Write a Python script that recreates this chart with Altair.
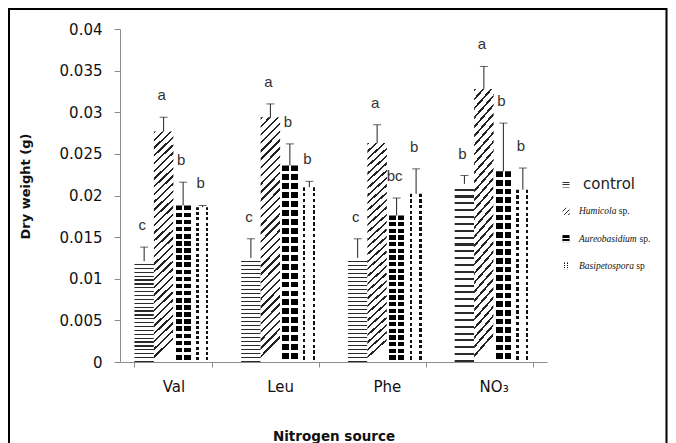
import altair as alt
import pandas as pd

# ---------------- data ----------------
categories = ["Val", "Leu", "Phe", "NO₃"]
series = ["control", "Humicola sp.", "Aureobasidium sp.", "Basipetospora sp"]

control_mean = [0.0121, 0.0125, 0.0125, 0.0214]
humicola_mean = [0.0277, 0.0294, 0.0263, 0.0328]
aureobasidium_mean = [0.0188, 0.0236, 0.0176, 0.0229]
basipetospora_mean = [0.0186, 0.0210, 0.0202, 0.0207]

control_err = [0.0017, 0.0023, 0.0023, 0.0010]
humicola_err = [0.0017, 0.0016, 0.0022, 0.0027]
aureobasidium_err = [0.0028, 0.0026, 0.0021, 0.0058]
basipetospora_err = [0.0002, 0.0007, 0.0030, 0.0026]

control_letters = ["c", "c", "c", "b"]
humicola_letters = ["a", "a", "a", "a"]
aureobasidium_letters = ["b", "b", "bc", "b"]
basipetospora_letters = ["b", "b", "b", "b"]

legend_names = ["control", "Humicola", "Aureobasidium", "Basipetospora"]
legend_suffix = ["", "sp.", "sp.", "sp"]

y_ticks = [0, 0.005, 0.01, 0.015, 0.02, 0.025, 0.03, 0.035, 0.04]

means = [control_mean, humicola_mean, aureobasidium_mean, basipetospora_mean]
errs = [control_err, humicola_err, aureobasidium_err, basipetospora_err]
letters = [control_letters, humicola_letters, aureobasidium_letters, basipetospora_letters]

rows = []
for s, m, e, l in zip(series, means, errs, letters):
    for c, mv, ev, lv in zip(categories, m, e, l):
        rows.append({"category": c, "series": s, "value": mv, "top": mv + ev, "letter": lv})
df = pd.DataFrame(rows)

# ---------------- pattern fills (gradients) ----------------
def stop(o, c):
    return alt.GradientStop(offset=round(min(max(o, 0), 1), 5), color=c)


def stripes(n, frac, dark, light, x2, y2, dark_first=False):
    st = []
    for k in range(n):
        a, b = k / n, (k + 1) / n
        if dark_first:
            m = (k + frac) / n
            st += [stop(a, dark), stop(m, dark), stop(m, light), stop(b, light)]
        else:
            m = (k + 1 - frac) / n
            st += [stop(a, light), stop(m, light), stop(m, dark), stop(b, dark)]
    return alt.LinearGradient(gradient="linear", stops=st, x1=0, y1=0, x2=x2, y2=y2)


def bands(segs, x2=1, y2=0):
    st = []
    for a, b, c in segs:
        st += [stop(a, c), stop(b, c)]
    return alt.LinearGradient(gradient="linear", stops=st, x1=0, y1=0, x2=x2, y2=y2)


CLEAR = "rgba(255,255,255,0)"
fill_control = stripes(26, 0.3, "#2a2a2a", "white", 0, 1)
fill_humicola = stripes(30, 0.3, "#222222", "white", 0.081, 1, dark_first=True)
fill_aureo = bands([(0, 0.12, "white"), (0.12, 0.46, "black"), (0.46, 0.56, "white"),
                    (0.56, 0.9, "black"), (0.9, 1, "white")])
over_aureo = stripes(22, 0.35, "white", CLEAR, 0, 1)
fill_basip = bands([(0, 0.17, "white"), (0.17, 0.29, "#111111"), (0.29, 0.67, "white"),
                    (0.67, 0.79, "#111111"), (0.79, 1, "white")])
over_basip = stripes(30, 0.42, "white", CLEAR, 0, 1)

leg_fills = [
    [stripes(3, 0.35, "#333333", "white", 0, 1)],
    [stripes(3, 0.35, "#333333", "white", 1, 1)],
    [bands([(0, 0.2, "black"), (0.2, 0.8, "black"), (0.8, 1, "black")], 0, 1),
     stripes(2, 0.3, "white", CLEAR, 0, 1)],
    [fill_basip, stripes(3, 0.4, "white", CLEAR, 0, 1)],
]

# ---------------- encodings ----------------
x_enc = alt.X(
    "category:N",
    sort=categories,
    scale=alt.Scale(domain=categories, paddingInner=0.27, paddingOuter=0.135),
    axis=alt.Axis(
        title="Nitrogen source",
        labelAngle=0,
        labelFont="DejaVu Sans",
        labelFontSize=15,
        labelColor="#111111",
        labelBaseline="alphabetic",
        labelPadding=24,
        domainColor="#8c8c8c",
        tickColor="#8c8c8c",
        tickSize=5,
        tickBand="extent",
        titleFont="DejaVu Sans",
        titleFontSize=13.5,
        titleFontWeight="bold",
        titleColor="#111111",
        titleBaseline="alphabetic",
        titleY=78,
    ),
)
xo_enc = alt.XOffset("series:N", scale=alt.Scale(domain=series, paddingInner=0, paddingOuter=0))
y_scale = alt.Scale(domain=[0, 0.04], nice=False, zero=True)
y_enc = alt.Y(
    "value:Q",
    scale=y_scale,
    axis=alt.Axis(
        values=y_ticks,
        format="~g",
        grid=False,
        title="Dry weight (g)",
        labelFont="DejaVu Sans",
        labelFontSize=15,
        labelColor="#111111",
        labelPadding=12,
        domainColor="#8c8c8c",
        tickColor="#8c8c8c",
        tickSize=6,
        titleFont="DejaVu Sans",
        titleFontSize=13,
        titleFontWeight="bold",
        titleColor="#111111",
        titleAngle=270,
        titleAlign="center",
        titleBaseline="bottom",
        titleX=-88,
        titleY=157,
    ),
)

base = alt.Chart(df)


def bar_layer(s, fill):
    return base.transform_filter(alt.datum.series == s).mark_bar(fill=fill, strokeWidth=0).encode(
        x=x_enc, xOffset=xo_enc, y=y_enc
    )


layers = [
    bar_layer(series[0], fill_control),
    bar_layer(series[1], fill_humicola),
    bar_layer(series[2], fill_aureo),
    bar_layer(series[2], over_aureo),
    bar_layer(series[3], fill_basip),
    bar_layer(series[3], over_basip),
]

err_rule = base.mark_rule(color="#222222", strokeWidth=1).encode(
    x=x_enc, xOffset=xo_enc, y=alt.Y("value:Q", scale=y_scale), y2="top:Q"
)
err_cap = base.mark_tick(color="#222222", thickness=1, size=8, orient="horizontal").encode(
    x=x_enc, xOffset=xo_enc, y=alt.Y("top:Q", scale=y_scale)
)
letter_text = base.mark_text(
    font="Liberation Sans", fontSize=15, color="#333333", baseline="alphabetic", dy=-17, dx=-2
).encode(x=x_enc, xOffset=xo_enc, y=alt.Y("top:Q", scale=y_scale), text="letter:N")
layers += [err_rule, err_cap, letter_text]

# ---------------- legend ----------------
italic_w = {"A": 611, "B": 611, "H": 722, "a": 500, "b": 500, "c": 444, "d": 500, "e": 444,
            "i": 278, "l": 278, "m": 722, "o": 500, "p": 500, "r": 389, "s": 389, "t": 278, "u": 500}
leg_df = pd.DataFrame({"series": series, "name": legend_names, "suffix": legend_suffix})
sym_x, text_x, row0, row_step = 446, 459, 155, 27.3
ital_size = 9.5
for i, s in enumerate(series):
    ld = alt.Chart(leg_df).transform_filter(alt.datum.series == s)
    ry = row0 + i * row_step
    for f in leg_fills[i]:
        layers.append(ld.mark_square(size=50, fill=f, opacity=1, strokeWidth=0).encode(
            x=alt.value(sym_x), y=alt.value(ry)))
    if i == 0:
        layers.append(ld.mark_text(font="DejaVu Sans", fontSize=15, color="#222222",
                                   align="left", baseline="middle").encode(
            x=alt.value(text_x + 4), y=alt.value(ry), text="name:N"))
    else:
        layers.append(ld.mark_text(font="Liberation Serif", fontStyle="italic", fontSize=ital_size,
                                   color="#111111", align="left", baseline="middle").encode(
            x=alt.value(text_x), y=alt.value(ry), text="name:N"))
        w = sum(italic_w.get(ch, 500) for ch in legend_names[i]) / 1000 * ital_size + 0.25 * ital_size
        layers.append(ld.mark_text(font="Liberation Serif", fontSize=ital_size, color="#111111",
                                   align="left", baseline="middle").encode(
            x=alt.value(text_x + w), y=alt.value(ry), text="suffix:N"))

# ---------------- outer frame ----------------
frame = alt.Chart(pd.DataFrame({"k": [0]})).mark_rect(
    fill="transparent", stroke="black", strokeWidth=2
).encode(x=alt.value(-111), x2=alt.value(546.5), y=alt.value(-20), y2=alt.value(440))
layers.append(frame)

chart = alt.layer(*layers).properties(
    width=427,
    height=333,
    padding={"left": 112, "top": 21, "right": 121, "bottom": 81},
    autosize=alt.AutoSizeParams(type="none"),
    background="white",
).configure_view(strokeWidth=0)

chart.save("out.html", embed_options={"renderer": "svg", "actions": False})
